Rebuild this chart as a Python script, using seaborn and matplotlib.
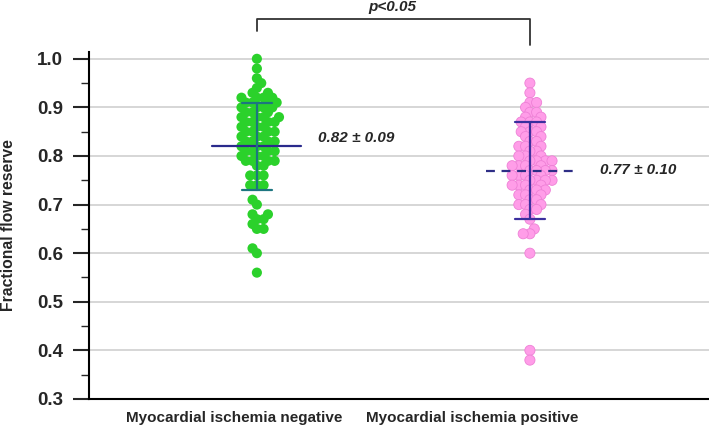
import numpy as np
import pandas as pd
import seaborn as sns
from matplotlib import pyplot as plt
from matplotlib import transforms

groups = ["Myocardial ischemia negative", "Myocardial ischemia positive"]

negative = [1.00, 0.98, 0.96, 0.95, 0.94, 0.93, 0.93,
            0.92, 0.92, 0.92, 0.92, 0.91, 0.91, 0.91, 0.91,
            0.90, 0.90, 0.90, 0.90, 0.89, 0.89, 0.89,
            0.88, 0.88, 0.88, 0.88, 0.87, 0.87, 0.87, 0.87,
            0.86, 0.86, 0.86, 0.85, 0.85, 0.85, 0.85,
            0.84, 0.84, 0.84, 0.83, 0.83, 0.83, 0.83,
            0.82, 0.82, 0.82, 0.81, 0.81, 0.81, 0.81,
            0.80, 0.80, 0.80, 0.79, 0.79, 0.79, 0.79, 0.78, 0.78,
            0.76, 0.76, 0.76, 0.74, 0.74, 0.74,
            0.71, 0.70, 0.68, 0.68, 0.67, 0.67, 0.66, 0.65, 0.65,
            0.61, 0.60, 0.56]

positive = [0.95, 0.93, 0.91, 0.91, 0.90, 0.89, 0.89, 0.88, 0.88,
            0.87, 0.87, 0.87, 0.86, 0.86, 0.85, 0.85, 0.85,
            0.84, 0.84, 0.83, 0.83, 0.82, 0.82, 0.82, 0.81, 0.81,
            0.80, 0.80, 0.80, 0.79, 0.79, 0.79, 0.79,
            0.78, 0.78, 0.78, 0.78, 0.77, 0.77, 0.77, 0.77,
            0.76, 0.76, 0.76, 0.76, 0.75, 0.75, 0.75, 0.75,
            0.74, 0.74, 0.74, 0.74, 0.73, 0.73, 0.73,
            0.72, 0.72, 0.72, 0.71, 0.71, 0.70, 0.70, 0.70,
            0.69, 0.69, 0.68, 0.67, 0.65, 0.64, 0.64, 0.60, 0.40, 0.38]

means = [0.82, 0.77]
sds = [0.09, 0.10]
stat_labels = ["0.82 \u00b1 0.09", "0.77 \u00b1 0.10"]
p_label = "p<0.05"

df = pd.DataFrame({
    "group": [groups[0]] * len(negative) + [groups[1]] * len(positive),
    "ffr": negative + positive,
})

sns.set_style("white")
plt.rcParams["font.family"] = ["Liberation Sans", "DejaVu Sans"]

fig = plt.figure(figsize=(7.09, 4.37), dpi=100)
ax = fig.add_axes([0.1255, 0.087, 0.8745, 0.794])

ax.set_ylim(0.3, 1.014)
for v in np.arange(0.3, 1.01, 0.1):
    ax.axhline(v, color="#cfcfcf", lw=1.2, zorder=0)

# swarm laid out with small markers, then drawn bigger so dots overlap a bit
sns.swarmplot(data=df, x="group", y="ffr", hue="group", order=groups,
              palette=["#2bd12b", "#ff9de8"], size=4.6, legend=False,
              linewidth=0, ax=ax, zorder=2)

# mean and SD bars
ax.plot([-0.163, 0.163], [means[0], means[0]], color="#2a2a8c", lw=1.6, zorder=4)
ax.plot([0, 0], [means[0] - sds[0], means[0] + sds[0]], color="#1d7680", lw=1.6, zorder=4)
for yy in (means[0] - sds[0], means[0] + sds[0]):
    ax.plot([-0.055, 0.055], [yy, yy], color="#1d7680", lw=1.6, zorder=4)

ax.plot([1 - 0.16, 1 + 0.16], [means[1], means[1]], color="#2e2e86", lw=1.6,
        ls=(0, (4, 3)), zorder=4)
ax.plot([1, 1], [means[1] - sds[1], means[1] + sds[1]], color="#3b2f9e", lw=1.6, zorder=4)
for yy in (means[1] - sds[1], means[1] + sds[1]):
    ax.plot([1 - 0.055, 1 + 0.055], [yy, yy], color="#3b2f9e", lw=1.6, zorder=4)

ax.text(0.223, 0.837, stat_labels[0], fontsize=11, fontweight="bold",
        fontstyle="italic", va="center", ha="left")
ax.text(1.256, 0.772, stat_labels[1], fontsize=11, fontweight="bold",
        fontstyle="italic", va="center", ha="left")

# significance bracket
ax.plot([0, 0, 1, 1], [1.058, 1.082, 1.082, 1.029], color="#333333", lw=1.3,
        clip_on=False)
ax.text(0.495, 1.107, p_label, fontsize=11, fontweight="bold", fontstyle="italic",
        ha="center", va="center", clip_on=False)

ax.set_xlim(-0.615, 1.656)
ax.set_xlabel("")
ax.set_ylabel("Fractional flow reserve", fontsize=11.3, fontweight="bold")
ax.yaxis.set_label_coords(-0.118, 0.5)
ax.set_yticks(np.arange(0.3, 1.01, 0.1))
ax.set_yticks(np.arange(0.35, 1.0, 0.1), minor=True)
ax.yaxis.set_major_formatter(plt.FormatStrFormatter("%.1f"))
ax.tick_params(axis="y", which="major", length=11.5, width=1.5, pad=7,
               labelsize=13.5, left=True, direction="out")
ax.tick_params(axis="y", which="minor", length=5.8, width=1, left=True, direction="out")
for lab in ax.get_yticklabels():
    lab.set_fontweight("bold")
ax.tick_params(axis="x", length=0, pad=9, labelsize=11)
offsets = [-0.23, -0.58]
for lab, dx in zip(ax.get_xticklabels(), offsets):
    lab.set_fontweight("bold")
    lab.set_transform(lab.get_transform() +
                      transforms.ScaledTranslation(dx, 0, fig.dpi_scale_trans))

for side in ("top", "right"):
    ax.spines[side].set_visible(False)
for side in ("left", "bottom"):
    ax.spines[side].set_color("black")
    ax.spines[side].set_linewidth(1.5)

# first draw runs the beeswarm layout, then swap to larger markers
fig.canvas.draw()
for pts in ax.collections[:2]:
    if "draw" in pts.__dict__:
        del pts.draw
    pts.set_sizes([7.3 ** 2])
ax.collections[1].set_edgecolor("#ee80d6")
ax.collections[1].set_linewidth(0.6)

fig.savefig("out.png", dpi=100)
